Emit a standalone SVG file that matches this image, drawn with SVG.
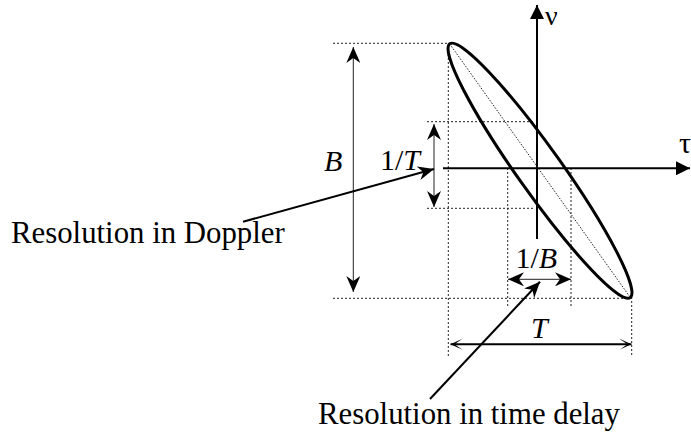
<svg xmlns="http://www.w3.org/2000/svg" width="691" height="436" viewBox="0 0 691 436">
<style>
.txt{font-family:"Liberation Serif","Times New Roman",serif;fill:#000}
.it{font-style:italic}
.dot{stroke:#222;stroke-width:1;stroke-dasharray:2,2;fill:none}
.axis{stroke:#000;stroke-width:2;fill:none}
.thin{stroke:#222;stroke-width:1;fill:none}
.thick{stroke:#000;stroke-width:2;fill:none}
</style>
<defs>
<marker id="tri" viewBox="0 0 14 14" refX="14" refY="7" markerWidth="14" markerHeight="14" markerUnits="userSpaceOnUse" orient="auto">
<path d="M14,7 L0,0 L0,14 Z" fill="#000"/>
</marker>
<marker id="barb" viewBox="0 0 16 14" refX="16" refY="7" markerWidth="16" markerHeight="14" markerUnits="userSpaceOnUse" orient="auto-start-reverse">
<path d="M16,7 L0,0 L5,7 L0,14 Z" fill="#000"/>
</marker>
<marker id="chev" viewBox="0 0 12 12" refX="12" refY="6" markerWidth="12" markerHeight="12" markerUnits="userSpaceOnUse" orient="auto-start-reverse">
<path d="M12,6 L0,0.5 L8,6 L0,11.5 Z" fill="#000"/>
</marker>
</defs>

<g id="guides">
<line class="dot" x1="333" y1="43.3" x2="450" y2="43.3"/>
<line class="dot" x1="333" y1="298.3" x2="632" y2="298.3"/>
<line class="dot" x1="448.3" y1="46" x2="448.3" y2="356"/>
<line class="dot" x1="631.7" y1="297" x2="631.7" y2="356"/>
<line class="dot" x1="427" y1="121.7" x2="534" y2="121.7"/>
<line class="dot" x1="427" y1="208.3" x2="534" y2="208.3"/>
<line class="dot" x1="507.7" y1="168" x2="507.7" y2="308"/>
<line class="dot" x1="571" y1="168" x2="571" y2="308"/>
</g>

<g id="axes">
<line class="axis" x1="537" y1="239" x2="537" y2="5" marker-end="url(#tri)"/>
<line class="axis" x1="443" y1="168.3" x2="690" y2="168.3" marker-end="url(#tri)"/>
<text class="txt" x="545" y="25" font-size="28">ν</text>
<text class="txt" x="679" y="153" font-size="30">τ</text>
</g>

<g id="ellipse">
<ellipse cx="540" cy="170.7" rx="155.7" ry="22" transform="rotate(54.6 540 170.7)" fill="none" stroke="#000" stroke-width="3"/>
<line x1="449.7" y1="43.9" x2="630.3" y2="297.5" stroke="#222" stroke-width="1" stroke-dasharray="1.5,1.5"/>
</g>

<g id="connectors">
<line class="thin" x1="353.3" y1="47" x2="353.3" y2="292" marker-start="url(#barb)" marker-end="url(#barb)"/>
<line class="thin" x1="434" y1="124" x2="434" y2="207" marker-start="url(#barb)" marker-end="url(#barb)"/>
<line class="thin" x1="508" y1="279.3" x2="571" y2="279.3" marker-start="url(#barb)" marker-end="url(#barb)"/>
<line class="thick" x1="450.5" y1="344.3" x2="631.5" y2="344.3" marker-start="url(#chev)" marker-end="url(#chev)"/>
<line class="thick" x1="243" y1="221.7" x2="434" y2="169" marker-end="url(#barb)"/>
<line class="thick" x1="430" y1="399" x2="540" y2="281.7" marker-end="url(#barb)"/>
</g>

<g id="labels">
<text class="txt it" x="324" y="170.7" font-size="30">B</text>
<text class="txt" x="380" y="170" font-size="30">1/<tspan class="it">T</tspan></text>
<text class="txt" x="515.5" y="268.3" font-size="30">1/<tspan class="it">B</tspan></text>
<text class="txt it" x="531" y="338" font-size="30">T</text>
</g>

<g id="doppler-label">
<text class="txt" x="11" y="243" font-size="30.8">Resolution in Doppler</text>
</g>
<g id="delay-label">
<text class="txt" x="318" y="424.3" font-size="30.8">Resolution in time delay</text>
</g>
</svg>
